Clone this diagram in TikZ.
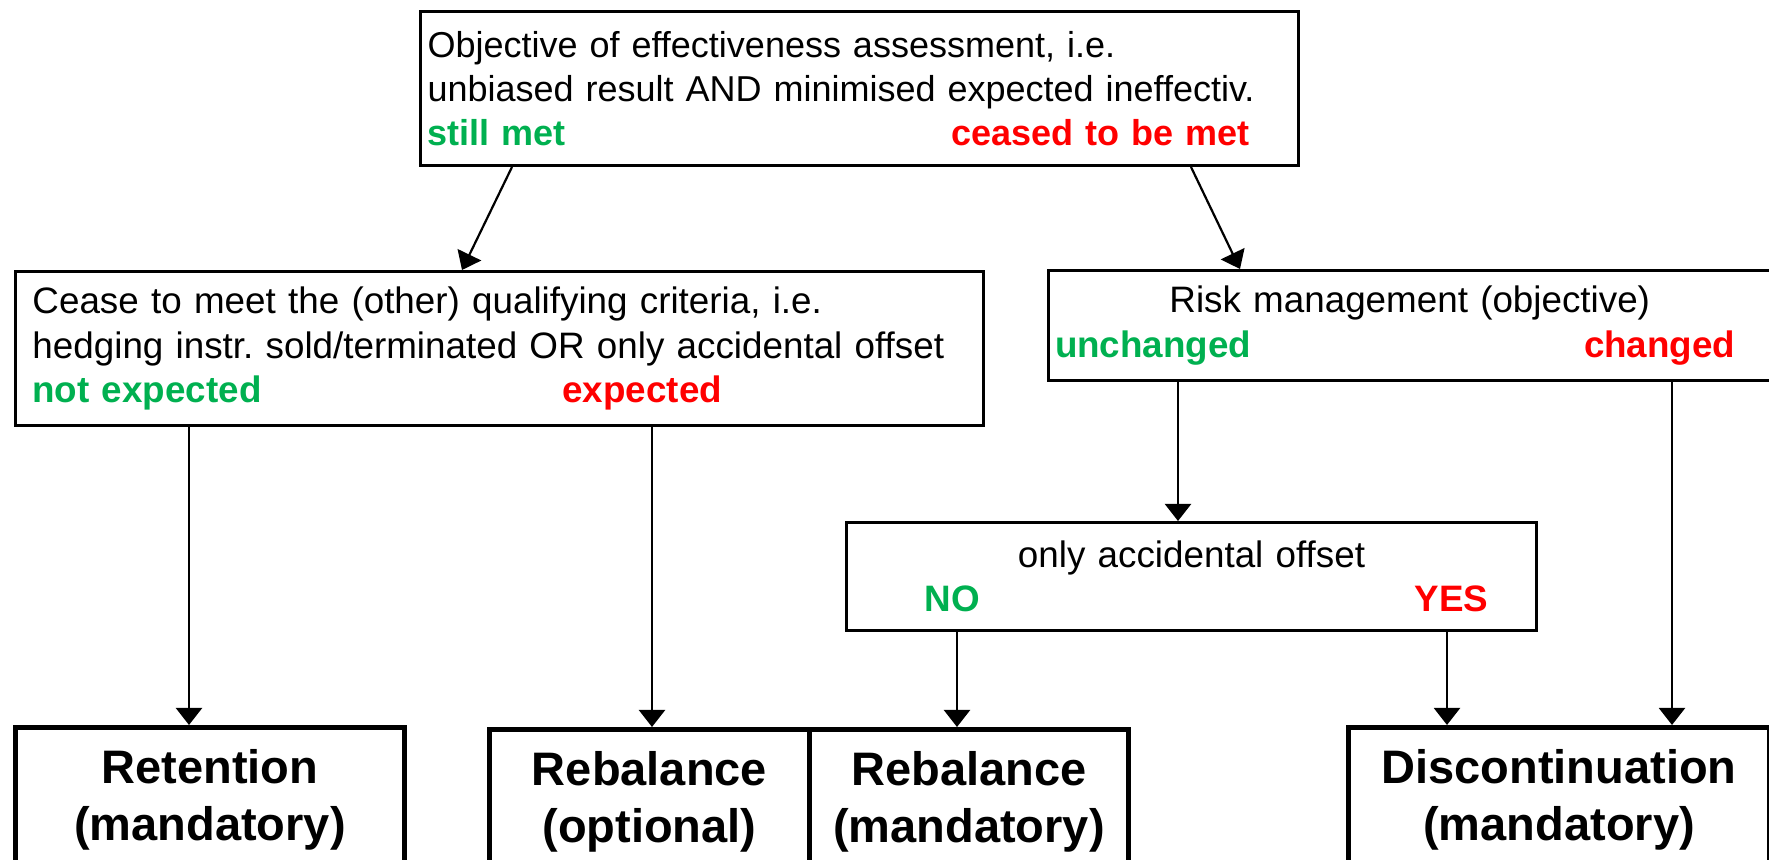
\documentclass[tikz,border=0pt]{standalone}
\usepackage{fontspec}
\setmainfont{Liberation Sans}
\usetikzlibrary{calc,arrows.meta}
\frenchspacing

\definecolor{okgreen}{RGB}{0,176,80}
\definecolor{badred}{RGB}{255,0,0}
\newcommand{\greenlbl}[1]{\textcolor{okgreen}{\bfseries #1}}
\newcommand{\redlbl}[1]{\textcolor{badred}{\bfseries #1}}
% answer line: indent, room for the green word, green word, red word
\newcommand{\answers}[4]{\hspace*{#1}\makebox[#2][l]{\greenlbl{#3}}\redlbl{#4}}
% centred line inside a left aligned box
\newcommand{\midline}[1]{\hspace*{\fill}#1\hspace*{\fill}\null}

\begin{document}
\begin{tikzpicture}[x=0.5pt, y=-0.5pt,
  cbox/.style={draw, line width=1.5pt, rectangle, anchor=north west,
    inner ysep=0pt, align=left, font=\fontsize{18.4}{22.25}\selectfont},
  rbox/.style={draw, line width=2.5pt, rectangle, anchor=north west,
    inner sep=0pt, minimum height=72pt, align=center,
    font=\fontsize{23.5}{28.5}\selectfont\bfseries},
  arr/.style={-{Triangle[width=13pt,length=8.5pt]}, line width=1.1pt}]
  % page = 1769 x 860 px, boxes at the bottom run past the edge
  \path[use as bounding box, clip] (0,0) rectangle (1769,860);

  % question boxes
  \node[cbox, text width=432pt, inner xsep=3.5pt, minimum height=76.75pt,
        font=\fontsize{18}{22.1}\selectfont] (obj) at (419,10.5)
    {Objective of effectiveness assessment, i.e.\\
     unbiased result AND minimised expected ineffectiv.\\
     \answers{0pt}{262pt}{still met}{ceased to be met}};
  \node[cbox, text width=467pt, inner xsep=8.5pt, minimum height=77pt] (cease) at (14,270)
    {Cease to meet the (other) qualifying criteria, i.e.\\
     hedging instr. sold/terminated OR only accidental offset\\
     \answers{0pt}{265pt}{not expected}{expected}};
  \node[cbox, text width=354.75pt, inner xsep=3.5pt, minimum height=55pt] (risk) at (1046.5,269)
    {\midline{Risk management (objective)}\\
     \answers{0pt}{264.5pt}{unchanged}{changed}};
  \node[cbox, text width=338pt, inner xsep=3.5pt, minimum height=54pt] (acc) at (845,521)
    {\midline{only accidental offset}\\
     \answers{35.5pt}{245pt}{NO}{YES}};

  % outcomes
  \node[rbox, minimum width=194.5pt] (ret) at (13,725) {Retention\\(mandatory)};
  \node[rbox, minimum width=160pt] (rebopt) at (487,727) {Rebalance\\(optional)};
  \node[rbox, minimum width=159.5pt] (rebman) at (807,727) {Rebalance\\(mandatory)};
  \node[rbox, minimum width=210.5pt] (disc) at (1346,725) {Discontinuation\\(mandatory)};

  % arrows
  \draw[arr] ($(obj.south west)+(93,0)$) -- ($(cease.north west)+(448,0)$);
  \draw[arr] ($(obj.south west)+(772,0)$) -- ($(risk.north west)+(193.5,0)$);
  \draw[arr] ($(cease.south west)+(175,0)$) -- ($(ret.north west)+(176,0)$);
  \draw[arr] ($(cease.south west)+(638,0)$) -- ($(rebopt.north west)+(165,0)$);
  \draw[arr] ($(risk.south west)+(131.5,0)$) -- ($(acc.north west)+(333,0)$);
  \draw[arr] ($(risk.south west)+(625.5,0)$) -- ($(disc.north west)+(326,0)$);
  \draw[arr] ($(acc.south west)+(112,0)$) -- ($(rebman.north west)+(150,0)$);
  \draw[arr] ($(acc.south west)+(602,0)$) -- ($(disc.north west)+(101,0)$);
\end{tikzpicture}
\end{document}
